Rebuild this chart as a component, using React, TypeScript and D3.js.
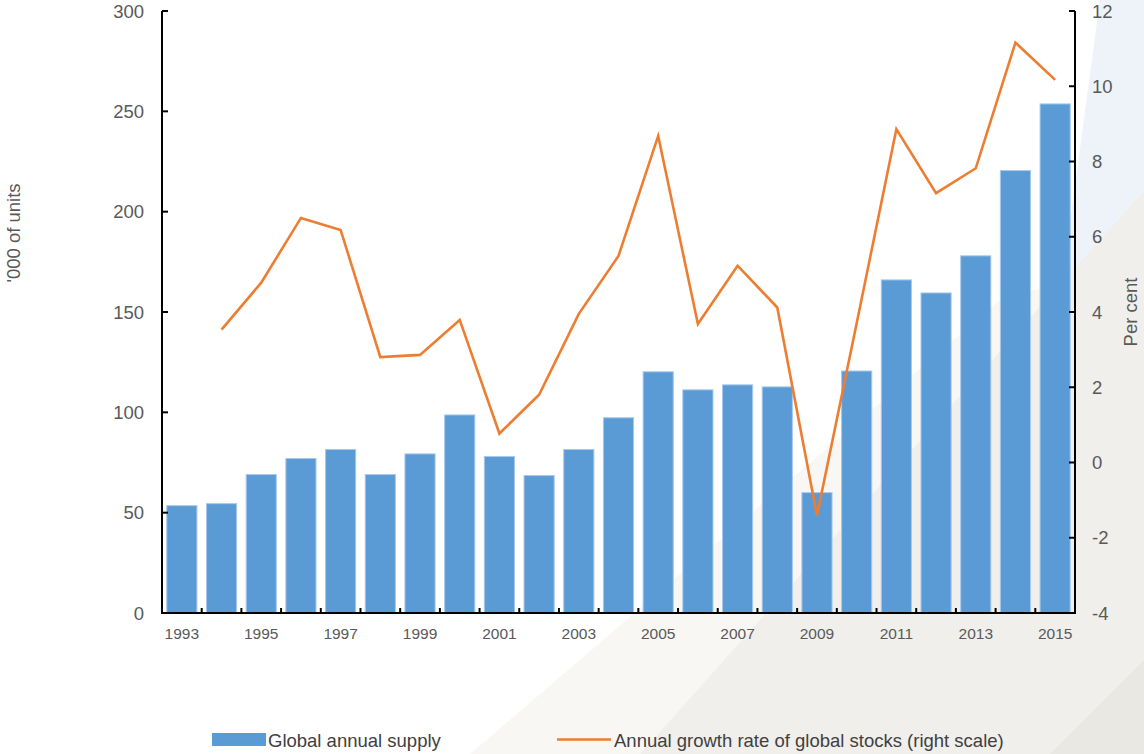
import React from "react";
import * as d3 from "d3";

const years = d3.range(1993, 2016).map(String);
const supply = [53.5, 54.5, 69, 77, 81.5, 69, 79.3, 98.7, 78, 68.5, 81.5, 97.3, 120.2, 111.2, 113.7, 112.7, 60, 120.6, 166, 159.5, 178, 220.5, 253.7];
const growthYears = d3.range(1994, 2016).map(String);
const growth = [3.53, 4.78, 6.5, 6.18, 2.8, 2.86, 3.79, 0.77, 1.8, 3.95, 5.49, 8.68, 3.68, 5.23, 4.12, -1.41, 3.7, 8.86, 7.16, 7.82, 11.16, 10.17];
const leftTicks = [0, 50, 100, 150, 200, 250, 300];
const rightTicks = [-4, -2, 0, 2, 4, 6, 8, 10, 12];
const labelYears = years.filter((_, i) => i % 2 === 0);

const W = 1144, H = 754;
const FONT = "'Liberation Sans', Arial, sans-serif";

export default function App() {
  const left = 162, right = 1075, top = 11, bottom = 613;
  const x = d3.scaleBand().domain(years).range([left, right]).paddingInner(0.24).paddingOuter(0.12);
  const yL = d3.scaleLinear().domain([0, 300]).range([bottom, top]);
  const yR = d3.scaleLinear().domain([-4, 12]).range([bottom, top]);
  const bw = x.bandwidth();
  const line = d3.line<number>()
    .x((_, i) => (x(growthYears[i]) as number) + bw / 2)
    .y((d) => yR(d));
  const step = x.step();
  const boundaries = d3.range(0, years.length + 1).map((i) => left + i * step);

  return (
    <svg width={W} height={H} style={{ position: "absolute", left: 0, top: 0, background: "#ffffff" }}>
      {/* decorative background */}
      <polygon points="470,754 640,754 1062,282 1000,300" fill="#f8f7f4" />
      <polygon points="1144,190 1144,754 640,754" fill="#f0efeb" />
      <polygon points="1100,0 1144,0 1144,190 1062,282" fill="#eef2f9" />
      <polygon points="1050,754 1144,754 1144,660" fill="#e9e8e3" />

      {/* bars */}
      {supply.map((v, i) => (
        <rect key={years[i]} x={x(years[i])} y={yL(v)} width={bw} height={yL(0) - yL(v)}
          fill="#5b9bd5" stroke="#a8c9ec" strokeWidth={1} />
      ))}

      {/* line */}
      <path d={line(growth) || ""} fill="none" stroke="#ed7d31" strokeWidth={2.6} strokeLinejoin="miter" />

      {/* axes */}
      <line x1={left} x2={left} y1={top} y2={bottom} stroke="#000" strokeWidth={2} />
      <line x1={right} x2={right} y1={top} y2={bottom} stroke="#000" strokeWidth={2} />
      <line x1={left - 1} x2={right + 1} y1={bottom} y2={bottom} stroke="#000" strokeWidth={2} />
      {leftTicks.map((t) => (
        <g key={"l" + t}>
          <line x1={left} x2={left + 6} y1={yL(t)} y2={yL(t)} stroke="#000" strokeWidth={2} />
          <text x={144} y={yL(t)} dy="0.36em" textAnchor="end" fontSize={18.5} fill="#595959" fontFamily={FONT}>{t}</text>
        </g>
      ))}
      {rightTicks.map((t) => (
        <g key={"r" + t}>
          <line x1={right - 6} x2={right} y1={yR(t)} y2={yR(t)} stroke="#000" strokeWidth={2} />
          <text x={1092} y={yR(t)} dy="0.36em" textAnchor="start" fontSize={18.5} fill="#595959" fontFamily={FONT}>{t}</text>
        </g>
      ))}
      {boundaries.map((b, i) => (
        <line key={"b" + i} x1={b} x2={b} y1={bottom} y2={bottom - 5} stroke="#000" strokeWidth={2} />
      ))}
      {labelYears.map((yr) => (
        <text key={yr} x={(x(yr) as number) + bw / 2} y={638.5} textAnchor="middle" fontSize={15.5} fill="#595959" fontFamily={FONT}>{yr}</text>
      ))}

      {/* axis titles */}
      <text transform={`translate(14,233) rotate(-90)`} textAnchor="middle" dy="0.35em" fontSize={18.5} fill="#595959" fontFamily={FONT}>'000 of units</text>
      <text transform={`translate(1131,312) rotate(-90)`} textAnchor="middle" dy="0.35em" fontSize={18.5} fill="#595959" fontFamily={FONT}>Per cent</text>

      {/* legend */}
      <rect x={212} y={733} width={54} height={13} fill="#5b9bd5" />
      <text x={268} y={746.5} fontSize={18.5} fill="#404040" fontFamily={FONT}>Global annual supply</text>
      <line x1={557} x2={611} y1={739.5} y2={739.5} stroke="#ed7d31" strokeWidth={2.6} />
      <text x={614} y={746.5} fontSize={18.5} fill="#404040" fontFamily={FONT}>Annual growth rate of global stocks (right scale)</text>
    </svg>
  );
}
